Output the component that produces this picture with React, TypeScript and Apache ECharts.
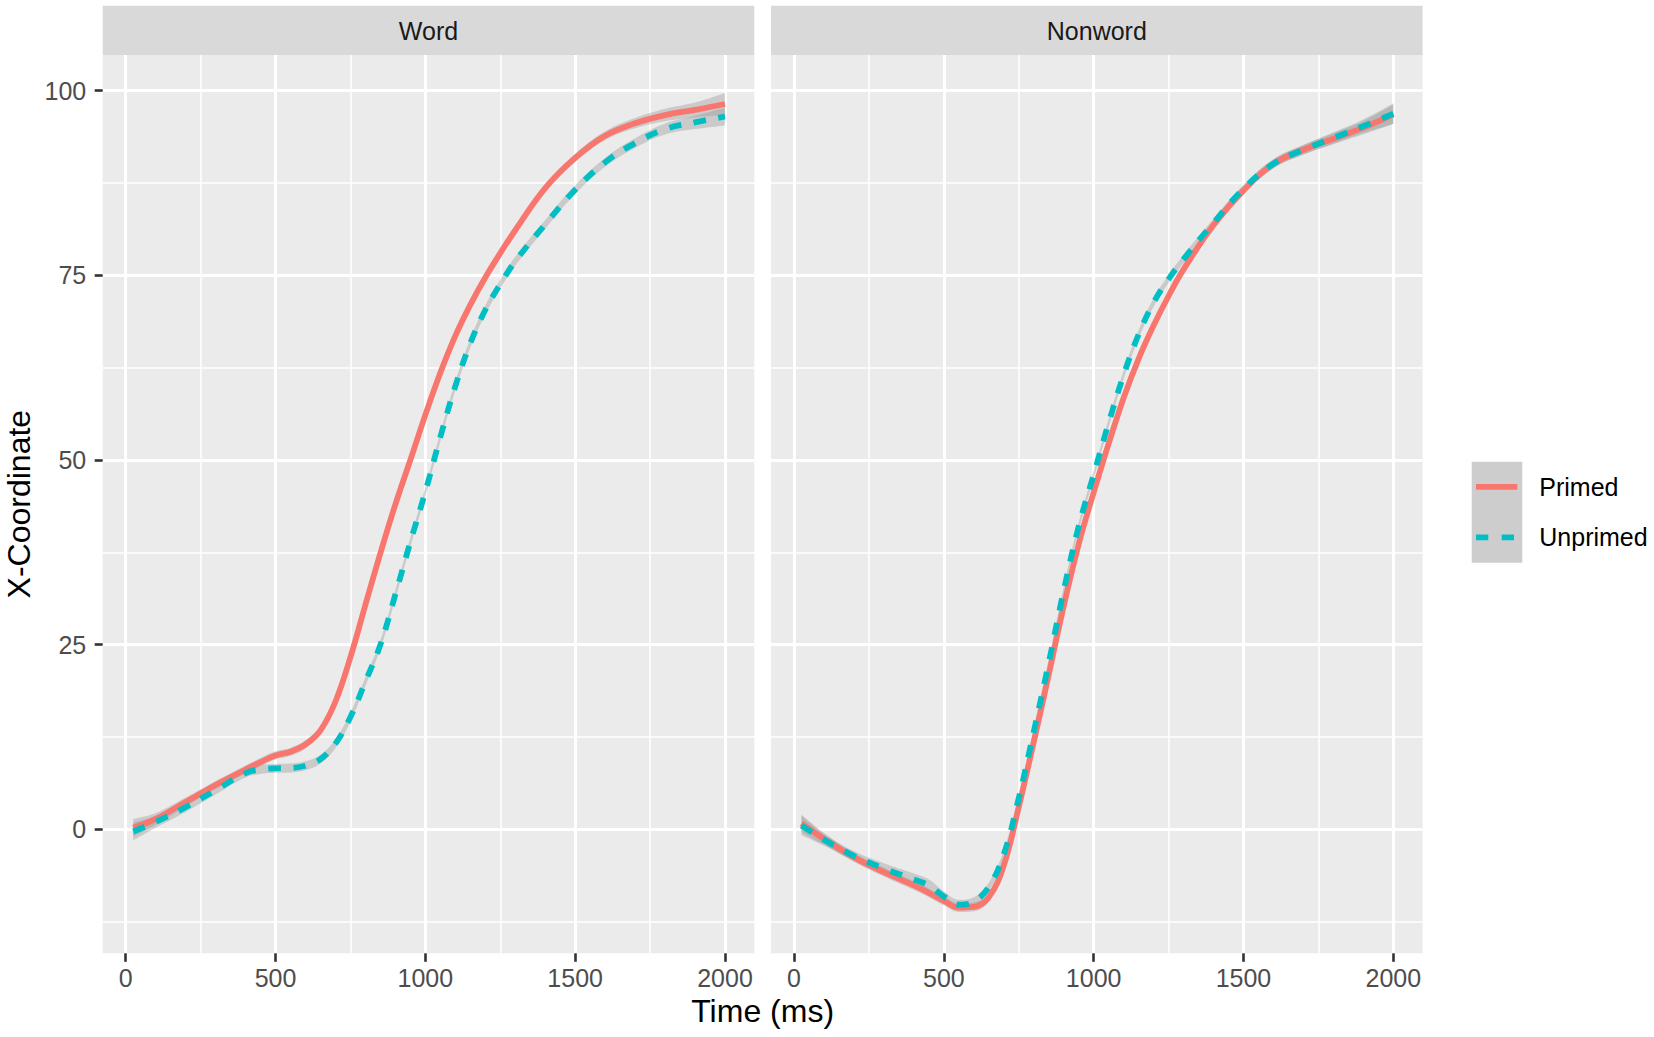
import React, { useEffect, useRef } from "react";
import * as echarts from "echarts";

// ---------- data ----------
const panelNames = ["Word", "Nonword"];
const groupNames = ["Primed", "Unprimed"];

const timeMs = [25, 100, 200, 300, 400, 450, 500, 550, 600, 650, 700, 750, 800, 850, 900, 950, 1000, 1050, 1100, 1150, 1200, 1250, 1300, 1400, 1500, 1600, 1700, 1800, 1900, 2000];

const wordPrimed = [0.2, 1.4, 3.7, 6.0, 8.1, 9.1, 10.0, 10.5, 11.5, 13.4, 17.3, 23.3, 30.4, 37.4, 44.0, 50.0, 56.1, 61.8, 66.8, 71.0, 74.7, 78.0, 81.1, 86.8, 90.9, 93.9, 95.6, 96.7, 97.4, 98.2];
const wordUnprimed = [-0.3, 1.0, 3.0, 5.3, 7.6, 8.1, 8.25, 8.3, 8.6, 9.5, 11.6, 15.2, 20.0, 25.0, 31.8, 38.9, 45.7, 53.1, 60.0, 65.8, 70.3, 73.8, 76.9, 81.9, 86.6, 90.3, 92.9, 94.8, 95.7, 96.5];
const nonwordPrimed = [0.8, -1.3, -3.8, -5.8, -7.6, -8.6, -9.7, -10.6, -10.5, -9.2, -4.9, 3.0, 11.8, 20.9, 30.2, 38.6, 45.6, 52.2, 58.4, 63.7, 68.2, 72.2, 75.8, 81.8, 86.5, 90.1, 92.0, 93.5, 95.0, 96.8];
const nonwordUnprimed = [0.5, -1.4, -3.6, -5.3, -6.8, -7.6, -9.1, -10.2, -9.8, -7.8, -3.4, 4.2, 13.2, 22.5, 32.3, 41.0, 48.0, 55.0, 61.5, 67.0, 71.3, 74.5, 77.2, 82.1, 86.7, 90.1, 92.0, 93.6, 95.2, 96.9];

// half-width of the confidence ribbons
const seWordPrimed = [1.2, 0.8, 0.6, 0.55, 0.55, 0.55, 0.55, 0.55, 0.55, 0.55, 0.55, 0.55, 0.55, 0.55, 0.55, 0.55, 0.55, 0.55, 0.55, 0.55, 0.55, 0.55, 0.55, 0.55, 0.55, 0.6, 0.7, 0.85, 1.0, 1.5];
const seWordUnprimed = [1.2, 0.8, 0.65, 0.6, 0.6, 0.6, 0.6, 0.6, 0.6, 0.6, 0.6, 0.6, 0.6, 0.6, 0.6, 0.6, 0.6, 0.6, 0.6, 0.6, 0.6, 0.6, 0.6, 0.6, 0.6, 0.6, 0.65, 0.75, 0.9, 1.2];
const seNonwordPrimed = [1.2, 0.8, 0.6, 0.6, 0.6, 0.6, 0.6, 0.6, 0.6, 0.6, 0.55, 0.55, 0.55, 0.55, 0.55, 0.55, 0.55, 0.55, 0.55, 0.55, 0.55, 0.55, 0.55, 0.55, 0.55, 0.6, 0.65, 0.75, 0.9, 1.3];
const seNonwordUnprimed = [1.3, 0.8, 0.65, 0.7, 0.8, 0.8, 0.7, 0.65, 0.6, 0.6, 0.55, 0.55, 0.55, 0.55, 0.55, 0.55, 0.55, 0.55, 0.55, 0.55, 0.55, 0.55, 0.55, 0.55, 0.55, 0.6, 0.65, 0.75, 0.9, 1.4];

const panelSeries = [
  [wordPrimed, wordUnprimed],
  [nonwordPrimed, nonwordUnprimed],
];
const panelSe = [
  [seWordPrimed, seWordUnprimed],
  [seNonwordPrimed, seNonwordUnprimed],
];

const xTicks = [0, 500, 1000, 1500, 2000];
const xMinorTicks = [250, 750, 1250, 1750];
const yTicks = [0, 25, 50, 75, 100];
const yMinorTicks = [-12.5, 12.5, 37.5, 62.5, 87.5];

const xLabel = "Time (ms)";
const yLabel = "X-Coordinate";

// ---------- styling / layout ----------
const FONT = "'Liberation Sans', Arial, Helvetica, sans-serif";
const COLORS = ["#F8766D", "#00BFC4"];
const RIBBON = "rgba(153,153,153,0.4)";
const X_MIN = -76.8;
const X_MAX = 2097.8;
const Y_MIN = -16.79;
const Y_MAX = 104.83;
const PANEL_TOP = 55;
const PANEL_H = 898.3;
const PANEL_W = 651.6;
const PANEL_LEFTS = [102.7, 771];
const STRIP_TOP = 5.7;
const SMOOTH = 0.4;
const LINE_W = 5.8;

function buildOption() {
  const grids = PANEL_LEFTS.map((left) => ({
    left,
    top: PANEL_TOP,
    width: PANEL_W,
    height: PANEL_H,
    show: true,
    backgroundColor: "#EBEBEB",
    borderWidth: 0,
    containLabel: false,
  }));

  const xAxes: any[] = [];
  const yAxes: any[] = [];
  PANEL_LEFTS.forEach((_, gi) => {
    xAxes.push({
      type: "value",
      gridIndex: gi,
      min: X_MIN,
      max: X_MAX,
      position: "bottom",
      axisLine: { show: false, onZero: false },
      axisTick: {
        show: true,
        length: 8.5,
        customValues: xTicks,
        lineStyle: { color: "#333333", width: 2.6 },
      },
      axisLabel: {
        show: true,
        customValues: xTicks,
        formatter: (v: number) => String(v),
        fontSize: 25,
        color: "#4D4D4D",
        fontFamily: FONT,
        margin: 12,
      },
      splitLine: { show: true, lineStyle: { color: "#FFFFFF", width: 3 } },
    });
    xAxes.push({
      type: "value",
      gridIndex: gi,
      min: X_MIN,
      max: X_MAX,
      position: "top",
      axisLine: { show: false, onZero: false },
      axisTick: { show: false, customValues: xMinorTicks },
      axisLabel: { show: false, customValues: xMinorTicks },
      splitLine: { show: true, lineStyle: { color: "#FFFFFF", width: 1.5 } },
    });
    yAxes.push({
      type: "value",
      gridIndex: gi,
      min: Y_MIN,
      max: Y_MAX,
      position: "left",
      axisLine: { show: false, onZero: false },
      axisTick: {
        show: gi === 0,
        length: 8,
        customValues: yTicks,
        lineStyle: { color: "#333333", width: 2.6 },
      },
      axisLabel: {
        show: gi === 0,
        customValues: yTicks,
        formatter: (v: number) => String(v),
        fontSize: 25,
        color: "#4D4D4D",
        fontFamily: FONT,
        margin: 16.5,
      },
      splitLine: { show: true, lineStyle: { color: "#FFFFFF", width: 3 } },
    });
    yAxes.push({
      type: "value",
      gridIndex: gi,
      min: Y_MIN,
      max: Y_MAX,
      position: "right",
      axisLine: { show: false, onZero: false },
      axisTick: { show: false, customValues: yMinorTicks },
      axisLabel: { show: false, customValues: yMinorTicks },
      splitLine: { show: true, lineStyle: { color: "#FFFFFF", width: 1.5 } },
    });
  });

  const series: any[] = [];
  panelSeries.forEach((groups, gi) => {
    groups.forEach((vals, g) => {
      const se = panelSe[gi][g];
      const stackId = `ribbon-${gi}-${g}`;
      const common = {
        type: "line",
        xAxisIndex: gi * 2,
        yAxisIndex: gi * 2,
        smooth: SMOOTH,
        symbol: "none",
        silent: true,
        z: 2,
      };
      // ribbon rows are [value, time] so that the first (stacked) dimension is y
      series.push({
        ...common,
        name: `${panelNames[gi]}-${groupNames[g]}-lower`,
        stack: stackId,
        stackStrategy: "all",
        encode: { x: 1, y: 0 },
        data: timeMs.map((t, i) => [vals[i] - se[i], t]),
        lineStyle: { width: 0, opacity: 0 },
      });
      series.push({
        ...common,
        name: `${panelNames[gi]}-${groupNames[g]}-band`,
        stack: stackId,
        stackStrategy: "all",
        encode: { x: 1, y: 0 },
        data: timeMs.map((t, i) => [2 * se[i], t]),
        lineStyle: { width: 0, opacity: 0 },
        areaStyle: { color: RIBBON, opacity: 1 },
      });
      series.push({
        ...common,
        name: `${panelNames[gi]}-${groupNames[g]}`,
        data: timeMs.map((t, i) => [t, vals[i]]),
        lineStyle: {
          color: COLORS[g],
          width: LINE_W,
          type: g === 1 ? [12.5, 12.5] : "solid",
          cap: "butt",
        },
      });
    });
  });

  const graphic: any[] = [];
  PANEL_LEFTS.forEach((left, gi) => {
    graphic.push({
      type: "rect",
      shape: { x: left, y: STRIP_TOP, width: PANEL_W, height: PANEL_TOP - STRIP_TOP },
      style: { fill: "#D9D9D9" },
      silent: true,
    });
    graphic.push({
      type: "text",
      x: left + PANEL_W / 2,
      y: (STRIP_TOP + PANEL_TOP) / 2 + 0.8,
      style: {
        text: panelNames[gi],
        fill: "#1A1A1A",
        fontSize: 25,
        fontFamily: FONT,
        align: "center",
        verticalAlign: "middle",
      },
      silent: true,
    });
  });

  // axis titles
  graphic.push({
    type: "text",
    x: (PANEL_LEFTS[0] + PANEL_LEFTS[1] + PANEL_W) / 2,
    y: 1011,
    style: {
      text: xLabel,
      fill: "#000000",
      fontSize: 32,
      fontFamily: FONT,
      align: "center",
      verticalAlign: "middle",
    },
    silent: true,
  });
  graphic.push({
    type: "text",
    x: 19,
    y: PANEL_TOP + PANEL_H / 2,
    rotation: Math.PI / 2,
    style: {
      text: yLabel,
      fill: "#000000",
      fontSize: 32,
      fontFamily: FONT,
      align: "center",
      verticalAlign: "middle",
    },
    silent: true,
  });

  // legend
  const keyX = 1471.7;
  const keyY = 461.7;
  const keyW = 50.6;
  const keyH = 50.5;
  graphic.push({
    type: "rect",
    shape: { x: keyX, y: keyY, width: keyW, height: keyH * 2 },
    style: { fill: "#CDCDCD" },
    silent: true,
  });
  groupNames.forEach((name, g) => {
    const cy = keyY + keyH * g + keyH / 2;
    graphic.push({
      type: "line",
      shape: { x1: keyX + 4.3, y1: cy, x2: keyX + keyW - 5, y2: cy },
      style: {
        stroke: COLORS[g],
        lineWidth: 5.8,
        lineDash: g === 1 ? [12.3, 13.4] : null,
        lineCap: "butt",
      },
      silent: true,
    });
    graphic.push({
      type: "text",
      x: 1539.3,
      y: cy,
      style: {
        text: name,
        fill: "#000000",
        fontSize: 25,
        fontFamily: FONT,
        align: "left",
        verticalAlign: "middle",
      },
      silent: true,
    });
  });

  return {
    animation: false,
    backgroundColor: "#FFFFFF",
    textStyle: { fontFamily: FONT },
    grid: grids,
    xAxis: xAxes,
    yAxis: yAxes,
    series,
    graphic,
  };
}

export default function App() {
  const ref = useRef<HTMLDivElement | null>(null);

  useEffect(() => {
    document.body.style.margin = "0";
    if (!ref.current) return;
    const chart = echarts.init(ref.current, undefined, { renderer: "svg" });
    chart.setOption(buildOption() as any);
    return () => {
      chart.dispose();
    };
  }, []);

  return (
    <div
      ref={ref}
      style={{
        position: "fixed",
        left: 0,
        top: 0,
        width: 1654,
        height: 1037,
        background: "#FFFFFF",
      }}
    />
  );
}
